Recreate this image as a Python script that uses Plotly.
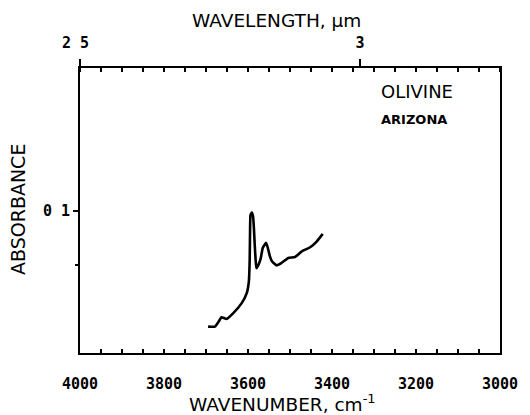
import plotly.graph_objects as go

# Data
wavenumber = [3695, 3679, 3670, 3663, 3651, 3635, 3615, 3603, 3598, 3596, 3595,
              3594, 3591, 3588, 3586, 3584, 3582, 3580, 3576, 3570, 3565,
              3560, 3557, 3553, 3548, 3543, 3532, 3520, 3504, 3488, 3472, 3452,
              3436, 3422]
absorbance = [0.0185, 0.0185, 0.022, 0.0251, 0.0239, 0.028, 0.035, 0.042, 0.050,
              0.065, 0.088, 0.097, 0.0985, 0.096, 0.088, 0.076, 0.066, 0.0595,
              0.0613, 0.066, 0.0737, 0.0762, 0.0773, 0.074, 0.068, 0.0643, 0.0615,
              0.0632, 0.0667, 0.0674, 0.0713, 0.0742, 0.0784, 0.0836]

bottom_labels = [4000, 3800, 3600, 3400, 3200, 3000]
bottom_minor = list(range(4000, 2999, -50))
top_wavelengths = [2.5, 3.0]
top_labels = ["2 5\u00a0", "3"]
y_ticks = [0.1]
y_labels = ["0 1"]
y_minor = [0.062]

tickfont = dict(family="DejaVu Sans Mono", size=15, color="black")
titlefont = dict(family="DejaVu Sans", size=18.5, color="black")

fig = go.Figure()
fig.add_trace(go.Scatter(x=wavenumber, y=absorbance, mode="lines",
                         line=dict(color="black", width=2.6, shape="spline", smoothing=0.4),
                         showlegend=False, hoverinfo="skip"))
fig.add_trace(go.Scatter(x=[], y=[], xaxis="x2", showlegend=False))

# page body has an 8px margin, so the figure is shrunk by that amount
fig.update_layout(
    width=522, height=407,
    margin=dict(l=72, r=30, t=60, b=62, autoexpand=False),
    paper_bgcolor="white", plot_bgcolor="white",
    xaxis=dict(range=[4000, 3000], showgrid=False, zeroline=False,
               showline=True, linecolor="black", linewidth=2, mirror=True,
               tickmode="array", tickvals=bottom_minor,
               ticktext=[(f"<b>{v}</b>" if v in bottom_labels else "") for v in bottom_minor],
               ticks="inside", ticklen=4, tickwidth=1.5, tickcolor="black",
               tickfont=tickfont, ticklabelstandoff=16),
    xaxis2=dict(range=[4000, 3000], overlaying="x", side="top", showgrid=False,
                zeroline=False, showline=False,
                tickmode="array", tickvals=[1e4 / w for w in top_wavelengths],
                ticktext=[f"<b>{t}</b>" for t in top_labels],
                ticks="outside", ticklen=8, tickwidth=1.5, tickcolor="black",
                tickfont=tickfont, ticklabelstandoff=5,
                minor=dict(ticks="inside", tickmode="linear", tick0=4000, dtick=50,
                           ticklen=4, tickwidth=1.5, tickcolor="black")),
    yaxis=dict(range=[0, 0.2], showgrid=False, zeroline=False,
               showline=True, linecolor="black", linewidth=2, mirror=True,
               tickmode="array", tickvals=y_ticks,
               ticktext=[f"<b>{t}</b>" for t in y_labels],
               ticks="outside", ticklen=5, tickwidth=1.5, tickcolor="black",
               tickfont=tickfont, ticklabelstandoff=0,
               minor=dict(ticks="outside", tickmode="array", tickvals=y_minor,
                          ticklen=3, tickwidth=1.5, tickcolor="black")),
    annotations=[
        dict(text="WAVENUMBER, cm<sup>-1</sup>", xref="paper", yref="paper",
             x=0.483, y=-0.175, xanchor="center", yanchor="middle",
             showarrow=False, font=titlefont),
        dict(text="WAVELENGTH, \u03bcm", xref="paper", yref="paper",
             x=0.467, y=1.168, xanchor="center", yanchor="middle",
             showarrow=False, font=titlefont),
        dict(text="ABSORBANCE", xref="paper", yref="paper",
             x=-0.146, y=0.504, xanchor="center", yanchor="middle", textangle=-90,
             showarrow=False, font=dict(family="DejaVu Sans", size=19, color="black")),
        dict(text="OLIVINE", xref="paper", yref="paper",
             x=0.712, y=0.918, xanchor="left", yanchor="middle",
             showarrow=False, font=dict(family="DejaVu Sans", size=18, color="black")),
        dict(text="<b>ARIZONA</b>", xref="paper", yref="paper",
             x=0.712, y=0.818, xanchor="left", yanchor="middle",
             showarrow=False, font=dict(family="DejaVu Sans", size=13, color="black")),
    ],
)

fig.write_html("out.html")
